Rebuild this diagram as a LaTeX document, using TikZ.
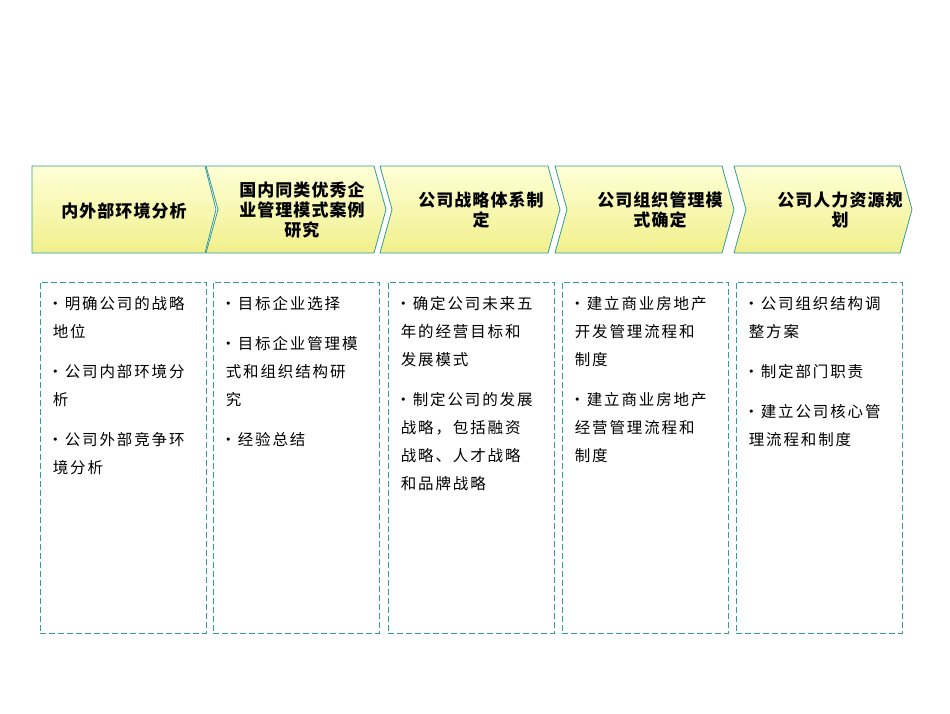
\documentclass[tikz,border=0pt]{standalone}
\usepackage{fontspec}
\setmainfont{Noto Sans CJK SC}
\newfontfamily\spacedfont[LetterSpace=12]{Noto Sans CJK SC}
\newfontfamily\titlefont[LetterSpace=6]{Noto Sans CJK SC}
\usetikzlibrary{positioning}
\definecolor{tealline}{RGB}{50,155,155}
\definecolor{chevtop}{RGB}{255,255,215}
\definecolor{chevbot}{RGB}{240,240,140}
\tikzset{
  chevron/.style={draw=tealline, line width=0.8pt, top color=chevtop, bottom color=chevbot},
  stagetext/.style={font=\titlefont\fontsize{17}{20}\selectfont\bfseries, align=center},
  itembox/.style={draw=tealline, dash pattern=on 6pt off 3pt, line width=0.8pt, minimum width=166pt, minimum height=351pt, anchor=north west},
  itemtext/.style={font=\spacedfont\fontsize{15.5}{28}\selectfont, align=left, anchor=north west}
}
\begin{document}
\begin{tikzpicture}[x=1pt,y=-1pt]
    \useasboundingbox (0,0) rectangle (950,713);

    % Stage chevrons
    \draw[chevron] (32,166) -- (205,166) -- (216,209.5) -- (205,253) -- (32,253) -- cycle;
    \draw[chevron] (206,166) -- (374,166) -- (386,209.5) -- (374,253) -- (206,253) -- (218,209.5) -- cycle;
    \draw[chevron] (380,166) -- (548,166) -- (560,209.5) -- (548,253) -- (380,253) -- (392,209.5) -- cycle;
    \draw[chevron] (555,166) -- (722,166) -- (734,209.5) -- (722,253) -- (555,253) -- (567,209.5) -- cycle;
    \draw[chevron] (734,166) -- (900,166) -- (912,209.5) -- (900,253) -- (734,253) -- (746,209.5) -- cycle;

    % Stage titles
    \node[stagetext] (stageA) at (124,211) {内外部环境分析};
    \node[stagetext] (stageB) at (302,210) {国内同类优秀企\\业管理模式案例\\研究};
    \node[stagetext] (stageC) at (481,210) {公司战略体系制\\定};
    \node[stagetext] (stageD) at (660,210) {公司组织管理模\\式确定};
    \node[stagetext] (stageE) at (840,210) {公司人力资源规\\划};

    % Detail boxes
    \node[itembox] (boxA) at (40,282) {};
    \node[itembox] (boxB) at (213,282) {};
    \node[itembox] (boxC) at (388,282) {};
    \node[itembox] (boxD) at (562,282) {};
    \node[itembox] (boxE) at (736,282) {};

    % Box contents
    \node[itemtext] (listA) at ([xshift=4pt,yshift=-11pt]boxA.north west)
      {•明确公司的战略\\\ 地位\\[12pt]•公司内部环境分\\\ 析\\[12pt]•公司外部竞争环\\\ 境分析};
    \node[itemtext] (listB) at ([xshift=4pt,yshift=-11pt]boxB.north west)
      {•目标企业选择\\[12pt]•目标企业管理模\\\ 式和组织结构研\\\ 究\\[12pt]•经验总结};
    \node[itemtext] (listC) at ([xshift=4pt,yshift=-11pt]boxC.north west)
      {•确定公司未来五\\\ 年的经营目标和\\\ 发展模式\\[12pt]•制定公司的发展\\\ 战略，包括融资\\\ 战略、人才战略\\\ 和品牌战略};
    \node[itemtext] (listD) at ([xshift=4pt,yshift=-11pt]boxD.north west)
      {•建立商业房地产\\\ 开发管理流程和\\\ 制度\\[12pt]•建立商业房地产\\\ 经营管理流程和\\\ 制度};
    \node[itemtext] (listE) at ([xshift=4pt,yshift=-11pt]boxE.north west)
      {•公司组织结构调\\\ 整方案\\[12pt]•制定部门职责\\[12pt]•建立公司核心管\\\ 理流程和制度};

\end{tikzpicture}
\end{document}
